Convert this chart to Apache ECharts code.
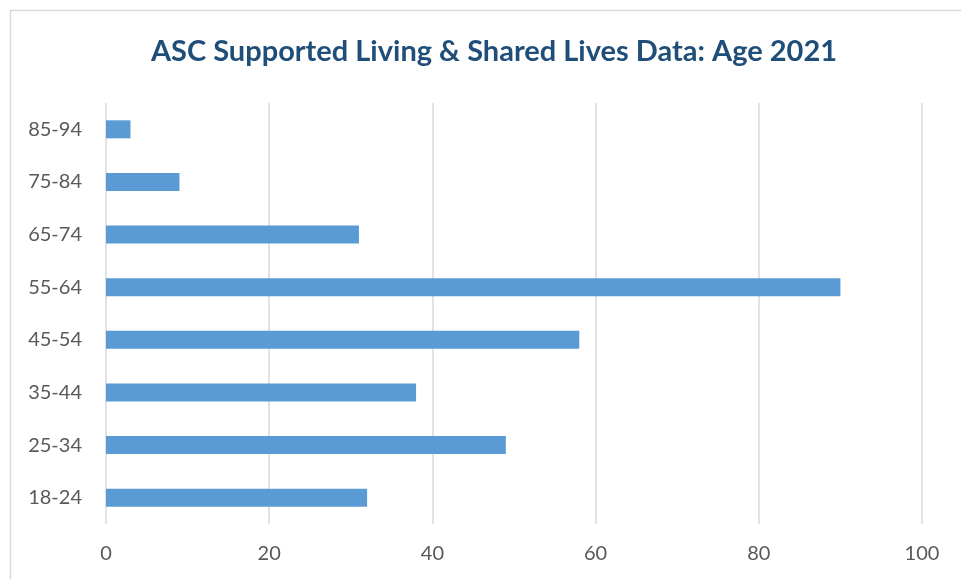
<!DOCTYPE html>
<html>
<head>
<meta charset="utf-8">
<script src="https://cdn.jsdelivr.net/npm/echarts@6/dist/echarts.min.js"></script>
<style>
  html, body { margin: 0; padding: 0; background: #fff; }
  #chart { width: 961px; height: 579px; }
</style>
</head>
<body>
<div id="chart"></div>
<script>
// age groups, bottom to top
const ageGroups = ['18-24', '25-34', '35-44', '45-54', '55-64', '65-74', '75-84', '85-94'];
const counts = [32, 49, 38, 58, 90, 31, 9, 3];
const xTicks = [0, 20, 40, 60, 80, 100];

const myChart = echarts.init(document.getElementById('chart'));
const font = 'Lato, "Open Sans", sans-serif';

myChart.setOption({
  animation: false,
  title: {
    text: 'ASC Supported Living & Shared Lives Data: Age 2021',
    left: 489,
    top: 32,
    textAlign: 'center',
    textStyle: {
      color: '#1F4E79',
      fontSize: 29,
      fontWeight: 'bold',
      fontFamily: font
    }
  },
  graphic: [{
    type: 'rect',
    shape: { x: 10.5, y: 10.5, width: 980, height: 600 },
    style: { fill: 'none', stroke: '#d9d9d9', lineWidth: 1.5 },
    silent: true
  }],
  grid: {
    left: 106,
    right: 961 - 922,
    top: 103,
    bottom: 579 - 524,
    containLabel: false
  },
  xAxis: {
    type: 'value',
    min: xTicks[0],
    max: xTicks[xTicks.length - 1],
    interval: 20,
    axisLine: { show: false },
    axisTick: { show: false },
    splitLine: { show: true, lineStyle: { color: '#d9d9d9', width: 1.5 } },
    axisLabel: {
      color: '#595959',
      fontSize: 20,
      fontFamily: font,
      margin: 20
    }
  },
  yAxis: {
    type: 'category',
    data: ageGroups,
    axisLine: { show: false },
    axisTick: { show: false },
    splitLine: { show: false },
    axisLabel: {
      color: '#595959',
      fontSize: 20,
      fontFamily: font,
      margin: 24
    }
  },
  series: [{
    type: 'bar',
    data: counts,
    barWidth: 18,
    itemStyle: { color: '#5B9BD5' }
  }]
});
</script>
</body>
</html>
